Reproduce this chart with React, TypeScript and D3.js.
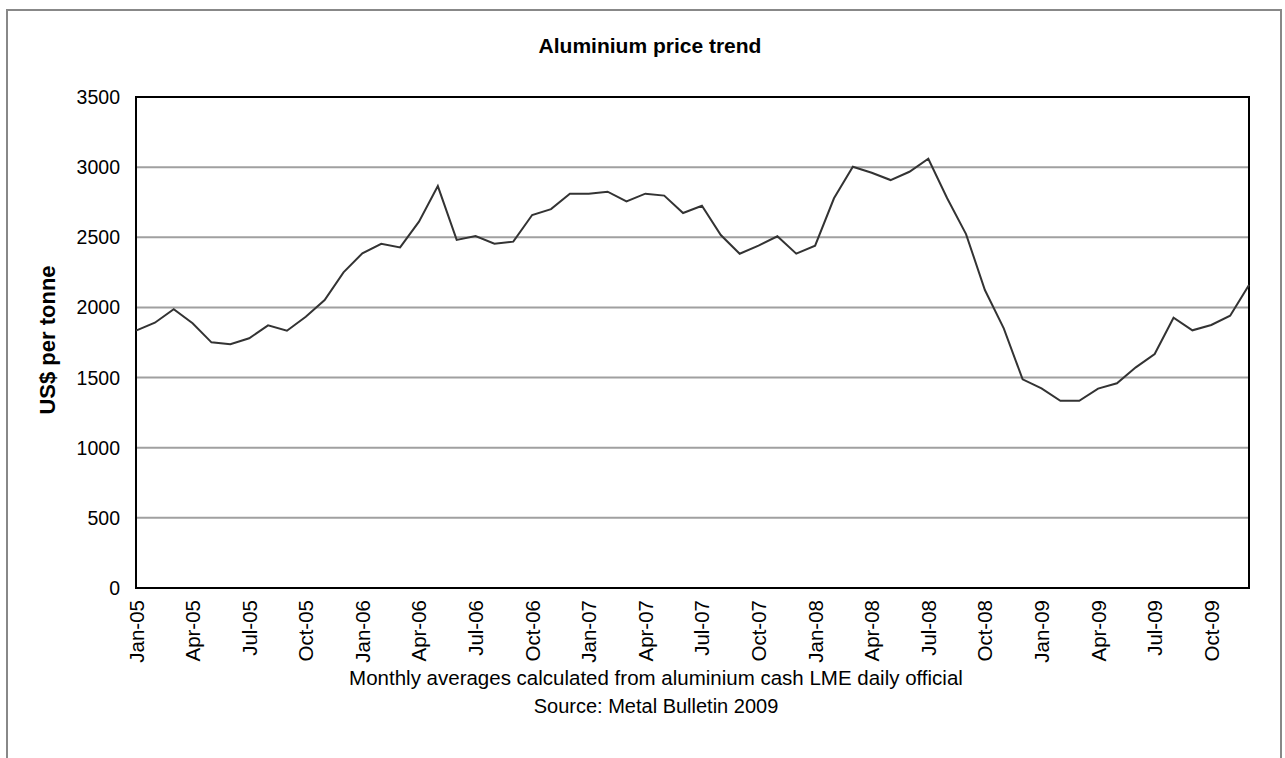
import React from "react";
import * as d3 from "d3";

const months = ["Jan","Feb","Mar","Apr","May","Jun","Jul","Aug","Sep","Oct","Nov","Dec"];
const years = ["05","06","07","08","09"];
const categories: string[] = years.flatMap((y) => months.map((m) => `${m}-${y}`));

const prices: number[] = [
  1835, 1891, 1987, 1887, 1751, 1737, 1780, 1872, 1834, 1934, 2053, 2250,
  2386, 2454, 2428, 2611, 2865, 2481, 2509, 2454, 2469, 2659, 2701, 2811,
  2811, 2825, 2756, 2811, 2797, 2673, 2725, 2516, 2383, 2440, 2507, 2383,
  2440, 2778, 3003, 2960, 2908, 2967, 3060, 2778, 2523, 2124, 1851, 1487,
  1423, 1335, 1335, 1421, 1459, 1573, 1668, 1927, 1837, 1875, 1941, 2160,
];

const yTicks: number[] = [0, 500, 1000, 1500, 2000, 2500, 3000, 3500];

const title = "Aluminium price trend";
const yTitle = "US$ per tonne";
const footer1 = "Monthly averages calculated from aluminium cash LME daily official";
const footer2 = "Source: Metal Bulletin 2009";

export default function App() {
  const W = 1285, H = 758;
  const left = 136, right = 1249, top = 97, bottom = 588;
  const x = d3.scalePoint<string>().domain(categories).range([left, right]);
  const y = d3.scaleLinear().domain([0, 3500]).range([bottom, top]);
  const line = d3.line<number>().x((_, i) => x(categories[i]) as number).y((d) => y(d));
  const font = "'Liberation Sans', Arial, sans-serif";
  const labelCats = categories.filter((_, i) => i % 3 === 0);

  return (
    <svg width={W} height={H} style={{ position: "absolute", left: 0, top: 0, background: "#fff" }} fontFamily={font}>
      <rect x={0} y={0} width={W} height={H} fill="#fff" />
      <rect x={7} y={10} width={1274} height={800} fill="none" stroke="#888" strokeWidth={2} />
      <text x={650} y={53} textAnchor="middle" fontSize={21} fontWeight="bold">{title}</text>
      {yTicks.filter((t) => t > 0 && t < 3500).map((t) => (
        <line key={t} x1={left} x2={right} y1={y(t)} y2={y(t)} stroke="#a0a0a0" strokeWidth={2} />
      ))}
      <rect x={left} y={top} width={right - left} height={bottom - top} fill="none" stroke="#000" strokeWidth={2} />
      <path d={line(prices) || ""} fill="none" stroke="#333" strokeWidth={2} strokeLinejoin="miter" />
      {yTicks.map((t) => (
        <text key={t} x={120} y={y(t)} dy="0.36em" textAnchor="end" fontSize={19.5}>{t}</text>
      ))}
      {labelCats.map((c) => (
        <text key={c} transform={`translate(${(x(c) as number) + 7.5},${bottom + 12}) rotate(-90)`} textAnchor="end" fontSize={20.5}>{c}</text>
      ))}
      <text transform={`translate(55,340) rotate(-90)`} textAnchor="middle" fontSize={22} fontWeight="bold">{yTitle}</text>
      <text x={656} y={685} textAnchor="middle" fontSize={20.5}>{footer1}</text>
      <text x={656} y={713} textAnchor="middle" fontSize={20}>{footer2}</text>
    </svg>
  );
}
